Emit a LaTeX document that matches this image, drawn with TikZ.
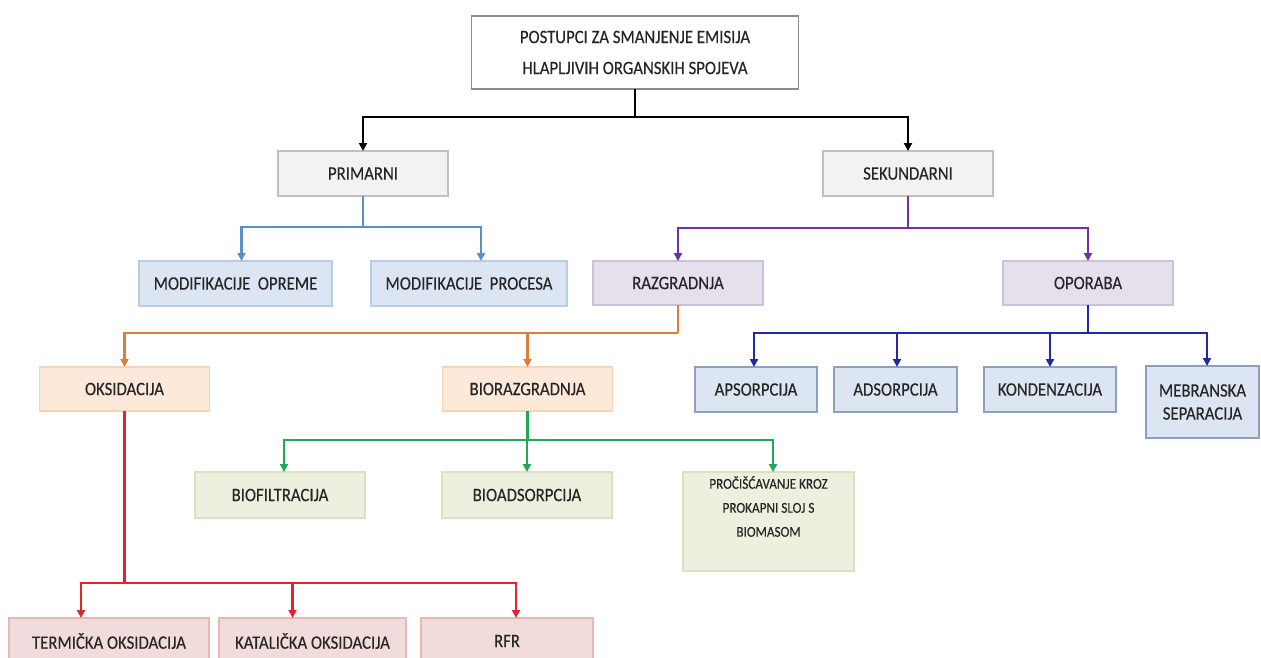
\documentclass[tikz,border=0pt]{standalone}
\usepackage{fontspec}
\setmainfont{Carlito}[FakeStretch=0.88,FakeBold=0.3]
\usetikzlibrary{arrows.meta,calc}
\definecolor{txt}{HTML}{262626}
\definecolor{topline}{HTML}{8C8C8C}
\definecolor{grayfill}{HTML}{F2F2F2}
\definecolor{grayline}{HTML}{BFBFBF}
\definecolor{blueline}{HTML}{5B8FC9}
\definecolor{bluefill}{HTML}{DCE6F2}
\definecolor{blueedge}{HTML}{BACDE4}
\definecolor{purpline}{HTML}{7030A0}
\definecolor{purpfill}{HTML}{E6E0EC}
\definecolor{purpedge}{HTML}{CCC1DA}
\definecolor{orline}{HTML}{E07B39}
\definecolor{orfill}{HTML}{FDE9D9}
\definecolor{oredge}{HTML}{F9D3B6}
\definecolor{navyline}{HTML}{2228A8}
\definecolor{navyfill}{HTML}{DCE6F2}
\definecolor{navyedge}{HTML}{8E9FBF}
\definecolor{grline}{HTML}{1FA856}
\definecolor{grfill}{HTML}{EBF1DE}
\definecolor{gredge}{HTML}{D7E4BD}
\definecolor{redline}{HTML}{E0262B}
\definecolor{redfill}{HTML}{F2DCDB}
\definecolor{rededge}{HTML}{E6B9B8}
\newcommand\fsmain{\fontsize{19}{23}\selectfont}
\newcommand\fssmall{\fontsize{15}{24}\selectfont}
\tikzset{
  box/.style={rectangle, inner sep=0pt, outer sep=0pt, align=center, line width=1.2pt, text=txt, font=\fsmain},
  topbox/.style={box, draw=topline, fill=white, line width=1.4pt},
  graybox/.style={box, draw=grayline, fill=grayfill},
  bluebox/.style={box, draw=blueedge, fill=bluefill},
  purpbox/.style={box, draw=purpedge, fill=purpfill},
  orbox/.style={box, draw=oredge, fill=orfill},
  navybox/.style={box, draw=navyedge, fill=navyfill},
  grbox/.style={box, draw=gredge, fill=grfill},
  redbox/.style={box, draw=rededge, fill=redfill},
  ln/.style={line width=2.1pt},
  arr/.style={line width=2.1pt, -{Triangle[length=8pt,width=8pt]}},
}
\begin{document}
\begin{tikzpicture}[x=1pt,y=-1pt]
\useasboundingbox (0,0) rectangle (1261,657);
\clip (0,0) rectangle (1261,657);
% nodes
\node[topbox, minimum width=327pt, minimum height=73pt, font=\fontsize{19}{31}\selectfont] (top) at (635,52.5) {POSTUPCI ZA SMANJENJE EMISIJA\\HLAPLJIVIH ORGANSKIH SPOJEVA};
\node[graybox, minimum width=170pt, minimum height=45pt] (prim) at (363,173.5) {PRIMARNI};
\node[graybox, minimum width=170pt, minimum height=45pt] (sek) at (908,173.5) {SEKUNDARNI};
\node[bluebox, minimum width=193pt, minimum height=45pt] (mod1) at (235.5,283.5) {MODIFIKACIJE\ \ OPREME};
\node[bluebox, minimum width=196pt, minimum height=45pt] (mod2) at (469,283.5) {MODIFIKACIJE\ \ PROCESA};
\node[purpbox, minimum width=170pt, minimum height=44pt] (raz) at (678,283) {RAZGRADNJA};
\node[purpbox, minimum width=170pt, minimum height=44pt] (opo) at (1088,283) {OPORABA};
\node[orbox, minimum width=170pt, minimum height=44pt] (oks) at (124.5,389) {OKSIDACIJA};
\node[orbox, minimum width=170pt, minimum height=44pt] (bio) at (527.5,389) {BIORAZGRADNJA};
\node[navybox, minimum width=122pt, minimum height=45pt] (aps) at (756,389.5) {APSORPCIJA};
\node[navybox, minimum width=123pt, minimum height=45pt] (ads) at (895.5,389.5) {ADSORPCIJA};
\node[navybox, minimum width=132pt, minimum height=45pt] (kon) at (1050,389.5) {KONDENZACIJA};
\node[navybox, minimum width=113pt, minimum height=72pt] (meb) at (1202.5,402) {MEBRANSKA\\SEPARACIJA};
\node[grbox, minimum width=170pt, minimum height=46pt] (biof) at (280,495) {BIOFILTRACIJA};
\node[grbox, minimum width=170pt, minimum height=46pt] (bioa) at (527,495) {BIOADSORPCIJA};
\node[grbox, minimum width=171pt, minimum height=99pt, font=\fssmall] (proc) at (768.5,521.5) {\raisebox{10pt}[0pt][0pt]{\begin{tabular}{@{}c@{}}PROČIŠĆAVANJE KROZ\\PROKAPNI SLOJ S\\BIOMASOM\end{tabular}}};
\node[redbox, minimum width=200pt, minimum height=46pt] (ter) at (109,641) {TERMIČKA OKSIDACIJA};
\node[redbox, minimum width=187pt, minimum height=46pt] (kat) at (312.5,641) {KATALIČKA OKSIDACIJA};
\node[redbox, minimum width=172pt, minimum height=46pt] (rfr) at (507,641) {RFR};
% connectors
\path (top.south) ++(0,28) coordinate (j0);
\draw[ln, black] (top.south) -- (j0);
\draw[arr, black] (j0) -| (prim.north);
\draw[arr, black] (j0) -| (sek.north);
\path (prim.south) ++(0,31) coordinate (j1);
\draw[ln, blueline] (prim.south) -- (j1);
\draw[arr, blueline] (j1) -| ([xshift=6pt]mod1.north);
\draw[arr, blueline] (j1) -| ([xshift=12pt]mod2.north);
\path (sek.south) ++(0,32) coordinate (j2);
\draw[ln, purpline] (sek.south) -- (j2);
\draw[arr, purpline] (j2) -| (raz.north);
\draw[arr, purpline] (j2) -| (opo.north);
\path (raz.south) ++(0,28) coordinate (j3);
\draw[ln, orline] (raz.south) -- (j3);
\draw[arr, orline] (j3) -| (oks.north);
\draw[arr, orline] (j3) -| (bio.north);
\path (opo.south) ++(0,28) coordinate (j4);
\draw[ln, navyline] (opo.south) -- (j4);
\draw[arr, navyline] (j4) -| ([xshift=-2pt]aps.north);
\draw[arr, navyline] (j4) -| ([xshift=1.5pt]ads.north);
\draw[arr, navyline] (j4) -| (kon.north);
\draw[arr, navyline] (j4) -| ([xshift=4.5pt]meb.north);
\path (bio.south) ++(0,29) coordinate (j5);
\draw[ln, grline] (bio.south) -- (j5);
\draw[arr, grline] (j5) -| ([xshift=4pt]biof.north);
\draw[arr, grline] (j5) -| (bioa.north);
\draw[arr, grline] (j5) -| ([xshift=4.5pt]proc.north);
\path (oks.south) ++(0,172) coordinate (j6);
\draw[ln, redline] (oks.south) -- (j6);
\draw[arr, redline] (j6) -| ([xshift=-28pt]ter.north);
\draw[arr, redline] (j6) -| ([xshift=-20pt]kat.north);
\draw[arr, redline] (j6) -| ([xshift=9pt]rfr.north);
\end{tikzpicture}
\end{document}
